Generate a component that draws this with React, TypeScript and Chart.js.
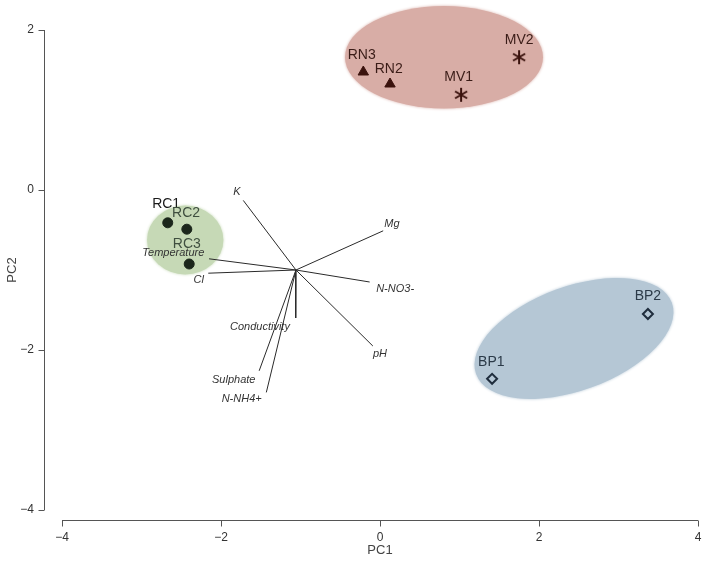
import React, { useEffect, useRef } from 'react';
import { Chart, registerables } from 'chart.js';
Chart.register(...registerables);

// ---- axis ranges / ticks ----
const xMin = -4, xMax = 4, xStep = 2;
const yMin = -4, yMax = 2, yStep = 2;
const xTitle = 'PC1';
const yTitle = 'PC2';

// ---- sample scores ----
const rcNames = ['RC1', 'RC2', 'RC3'];
const rcX = [-2.67, -2.43, -2.40];
const rcY = [-0.41, -0.49, -0.925];
const rcLabelX = [-2.69, -2.44, -2.43];
const rcLabelY = [-0.175, -0.29, -0.675];

const rnNames = ['RN3', 'RN2'];
const rnX = [-0.21, 0.126];
const rnY = [1.475, 1.325];
const rnLabelX = [-0.23, 0.11];
const rnLabelY = [1.69, 1.51];

const mvNames = ['MV1', 'MV2'];
const mvX = [1.02, 1.75];
const mvY = [1.19, 1.66];
const mvLabelX = [0.99, 1.75];
const mvLabelY = [1.41, 1.875];

const bpNames = ['BP1', 'BP2'];
const bpX = [1.41, 3.37];
const bpY = [-2.36, -1.55];
const bpLabelX = [1.40, 3.37];
const bpLabelY = [-2.15, -1.325];

// ---- variable loadings (biplot arrows) ----
const originX = -1.057;
const originY = -1.0;
const varNames = ['K', 'Mg', 'N-NO3-', 'pH', 'Conductivity', 'Sulphate', 'N-NH4+', 'Cl', 'Temperature'];
const varX = [-1.72, 0.04, -0.13, -0.09, -1.06, -1.52, -1.43, -2.16, -2.15];
const varY = [-0.13, -0.51, -1.15, -1.95, -1.60, -2.26, -2.53, -1.04, -0.86];
const varLabelX = [-1.80, 0.15, 0.19, 0.0, -1.51, -1.84, -1.74, -2.28, -2.60];
const varLabelY = [-0.03, -0.43, -1.24, -2.05, -1.71, -2.38, -2.61, -1.13, -0.79];

// ---- group ellipses (data units) ----
const ellCX = [0.805, -2.45, 2.44];
const ellCY = [1.66, -0.625, -1.856];
const ellRX = [1.245, 0.48, 1.31];
const ellRY = [0.64, 0.43, 0.65];
const ellAngle = [0, 0, 20];
const ellColor = ['#d8ada6', '#c6d9b6', '#b5c7d5'];

const FONT = '"Liberation Sans", Arial, sans-serif';

const ellipsePlugin = {
  id: 'groupEllipses',
  beforeDatasetsDraw(chart: any) {
    const { ctx, scales } = chart;
    const x = scales.x, y = scales.y;
    ctx.save();
    for (let i = 0; i < ellCX.length; i++) {
      const cx = x.getPixelForValue(ellCX[i]);
      const cy = y.getPixelForValue(ellCY[i]);
      const rx = Math.abs(x.getPixelForValue(ellCX[i] + ellRX[i]) - cx);
      const ry = Math.abs(y.getPixelForValue(ellCY[i] + ellRY[i]) - cy);
      ctx.beginPath();
      ctx.ellipse(cx, cy, rx, ry, (-ellAngle[i] * Math.PI) / 180, 0, Math.PI * 2);
      ctx.fillStyle = ellColor[i];
      ctx.shadowColor = ellColor[i];
      ctx.shadowBlur = 3;
      ctx.fill();
    }
    ctx.restore();
  },
};

const axesPlugin = {
  id: 'rAxes',
  afterDraw(chart: any) {
    const { ctx, scales, chartArea } = chart;
    const x = scales.x, y = scales.y;
    ctx.save();
    ctx.strokeStyle = '#555555';
    ctx.lineWidth = 1;
    const ax = Math.round(chartArea.left - 18) + 0.5;
    ctx.beginPath();
    ctx.moveTo(ax, y.getPixelForValue(yMax));
    ctx.lineTo(ax, y.getPixelForValue(yMin));
    y.ticks.forEach((t: any) => {
      const py = Math.round(y.getPixelForValue(t.value)) + 0.5;
      ctx.moveTo(ax - 6, py);
      ctx.lineTo(ax, py);
    });
    ctx.stroke();
    const ay = Math.round(chartArea.bottom + 10) + 0.5;
    ctx.beginPath();
    ctx.moveTo(x.getPixelForValue(xMin), ay);
    ctx.lineTo(x.getPixelForValue(xMax), ay);
    x.ticks.forEach((t: any) => {
      const px = Math.round(x.getPixelForValue(t.value)) + 0.5;
      ctx.moveTo(px, ay);
      ctx.lineTo(px, ay + 6);
    });
    ctx.stroke();
    ctx.restore();
  },
};

const labelPlugin = {
  id: 'pointLabels',
  afterDatasetsDraw(chart: any) {
    const { ctx, scales } = chart;
    const x = scales.x, y = scales.y;
    ctx.save();
    ctx.textAlign = 'center';
    ctx.textBaseline = 'middle';
    const drawSet = (names: string[], lx: number[], ly: number[], colors: string[], font: string) => {
      ctx.font = font;
      names.forEach((n, i) => {
        ctx.fillStyle = colors[i];
        ctx.fillText(n, x.getPixelForValue(lx[i]), y.getPixelForValue(ly[i]));
      });
    };
    drawSet(varNames, varLabelX, varLabelY, varNames.map(() => '#333333'), `italic 11px ${FONT}`);
    drawSet(rcNames, rcLabelX, rcLabelY, ['#1a1a1a', '#3f4f3f', '#3f4f3f'], `14px ${FONT}`);
    drawSet(rnNames, rnLabelX, rnLabelY, ['#3a1c17', '#3a1c17'], `14px ${FONT}`);
    drawSet(mvNames, mvLabelX, mvLabelY, ['#3a1c17', '#3a1c17'], `14px ${FONT}`);
    drawSet(bpNames, bpLabelX, bpLabelY, ['#2b3a48', '#2b3a48'], `14px ${FONT}`);
    ctx.restore();
  },
};

function makeAsterisk(color: string): HTMLCanvasElement {
  const c = document.createElement('canvas');
  c.width = 16;
  c.height = 16;
  const g = c.getContext('2d')!;
  g.strokeStyle = color;
  g.lineWidth = 2;
  g.lineCap = 'butt';
  const r = 7;
  g.beginPath();
  for (let k = 0; k < 3; k++) {
    const a = Math.PI / 2 + (k * Math.PI) / 3;
    g.moveTo(8 + r * Math.cos(a), 8 + r * Math.sin(a));
    g.lineTo(8 - r * Math.cos(a), 8 - r * Math.sin(a));
  }
  g.stroke();
  return c;
}

const toPts = (xs: number[], ys: number[]) => xs.map((v, i) => ({ x: v, y: ys[i] }));
const minus = (v: number | string) => String(v).replace('-', '\u2212');

export default function App() {
  const ref = useRef<HTMLCanvasElement>(null);
  useEffect(() => {
    if (!ref.current) return;
    const arrowSets = varNames.map((n, i) => ({
      label: n,
      data: [{ x: originX, y: originY }, { x: varX[i], y: varY[i] }],
      showLine: true,
      borderColor: '#2a2a2a',
      borderWidth: 1,
      pointRadius: 0,
      fill: false,
    }));
    const chart = new Chart(ref.current, {
      type: 'scatter',
      data: {
        datasets: [
          ...arrowSets,
          {
            label: 'RC',
            data: toPts(rcX, rcY),
            pointStyle: 'circle',
            pointRadius: 5,
            backgroundColor: '#1b261b',
            borderColor: '#1b261b',
            borderWidth: 1,
          },
          {
            label: 'RN',
            data: toPts(rnX, rnY),
            pointStyle: 'triangle',
            pointRadius: 6,
            backgroundColor: '#3a120d',
            borderColor: '#3a120d',
            borderWidth: 1,
          },
          {
            label: 'MV',
            data: toPts(mvX, mvY),
            pointStyle: makeAsterisk('#3a120d'),
            pointRadius: 7,
          },
          {
            label: 'BP',
            data: toPts(bpX, bpY),
            pointStyle: 'rectRot',
            pointRadius: 5,
            backgroundColor: 'rgba(0,0,0,0)',
            borderColor: '#1f2d3d',
            borderWidth: 2,
          },
        ] as any,
      },
      options: {
        animation: false,
        responsive: false,
        events: [],
        layout: { padding: { top: 30, right: 11, left: 0, bottom: 0 } },
        plugins: { legend: { display: false }, tooltip: { enabled: false } },
        scales: {
          x: {
            type: 'linear',
            min: xMin,
            max: xMax,
            ticks: {
              stepSize: xStep,
              padding: 20,
              color: '#333333',
              font: { family: FONT, size: 12 },
              callback: (v: any) => minus(v),
            },
            grid: { display: false, drawTicks: false },
            border: { display: false },
            title: {
              display: true,
              text: xTitle,
              color: '#444444',
              font: { family: FONT, size: 13 },
              padding: { top: 0, bottom: 4 },
            },
            afterFit: (s: any) => {
              s.height = 52;
              s.paddingLeft = 0;
              s.paddingRight = 0;
            },
          },
          y: {
            type: 'linear',
            min: yMin,
            max: yMax,
            ticks: {
              stepSize: yStep,
              padding: 28,
              color: '#333333',
              font: { family: FONT, size: 12 },
              callback: (v: any) => minus(v),
            },
            grid: { display: false, drawTicks: false },
            border: { display: false },
            title: {
              display: true,
              text: yTitle,
              color: '#444444',
              font: { family: FONT, size: 13 },
              padding: { top: 5, bottom: 0 },
            },
            afterFit: (s: any) => {
              s.width = 62;
              s.paddingTop = 0;
              s.paddingBottom = 0;
            },
          },
        },
      } as any,
      plugins: [ellipsePlugin, labelPlugin, axesPlugin],
    });
    return () => chart.destroy();
  }, []);
  return (
    <div style={{ position: 'absolute', left: 0, top: 0, width: 709, height: 562, background: '#ffffff' }}>
      <canvas ref={ref} width={709} height={562} style={{ display: 'block' }} />
    </div>
  );
}
